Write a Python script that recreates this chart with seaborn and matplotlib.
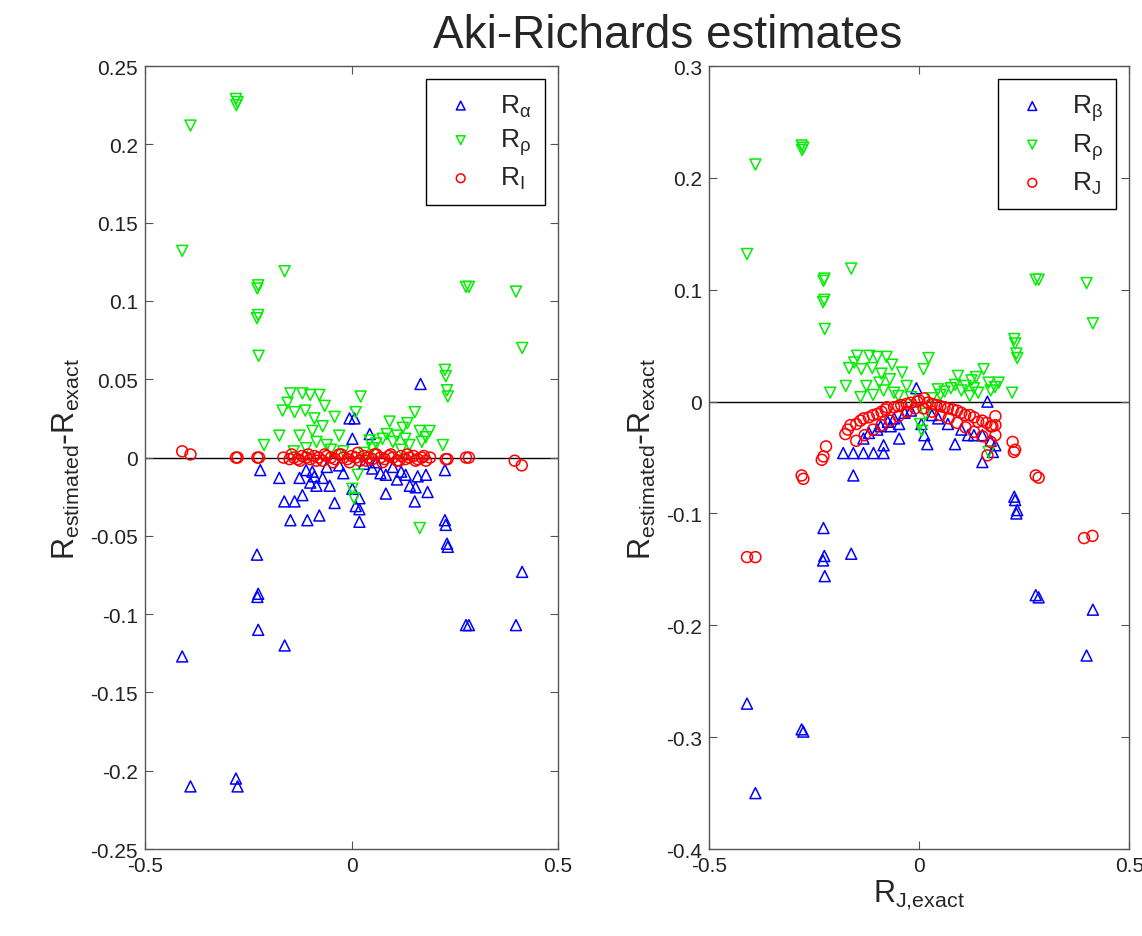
import matplotlib
matplotlib.use("Agg")
import matplotlib.pyplot as plt
import numpy as np
import pandas as pd
import seaborn as sns
from matplotlib.ticker import FuncFormatter

sns.set_style("ticks")
plt.rcParams["font.family"] = ["Liberation Sans", "DejaVu Sans"]
plt.rcParams["axes.unicode_minus"] = False
plt.rcParams["xtick.direction"] = "in"
plt.rcParams["ytick.direction"] = "in"
plt.rcParams["xtick.top"] = True
plt.rcParams["ytick.right"] = True

# R_rho (same in both panels)
x_rho = [-0.41, -0.39, -0.28, -0.276, -0.279, -0.226, -0.228, -0.226, -0.229, -0.225, -0.212, -0.162,
         -0.148, -0.119, -0.100, -0.078, -0.167, -0.138, -0.112, -0.175, -0.126, -0.095, -0.070, -0.041,
         -0.030, 0.022, 0.010, 0.153, 0.092, 0.124, 0.165, 0.189, 0.221, 0.075, 0.044, 0.015, 0.165,
         0.002, 0.006,
         -0.06, -0.05, -0.02, 0.03, 0.05, 0.06, 0.10, 0.11, 0.13, 0.14, 0.17, 0.12, -0.085, -0.11,
         -0.14, -0.155, -0.09, -0.065, 0.085, 0.135, 0.18,
         0.226, 0.228, 0.231, 0.233, 0.277, 0.284, 0.398, 0.413]
y_rho = [0.132, 0.212, 0.229, 0.227, 0.225, 0.110, 0.108, 0.091, 0.089, 0.065, 0.008, 0.119,
         0.041, 0.041, 0.040, 0.040, 0.030, 0.029, 0.030, 0.014, 0.014, 0.017, 0.020, 0.026,
         0.014, 0.039, 0.029, 0.029, 0.023, 0.019, 0.017, 0.017, 0.008, 0.012, 0.011, -0.011, -0.045,
         -0.020, -0.026,
         0.008, 0.005, 0.004, 0.003, 0.006, 0.009, 0.010, 0.014, 0.012, 0.008, 0.010, 0.005, 0.010, 0.006,
         0.004, 0.035, 0.025, 0.033, 0.015, 0.022, 0.013,
         0.056, 0.052, 0.043, 0.039, 0.109, 0.109, 0.106, 0.070]

# R_alpha (left panel)
x_alpha = [-0.41, -0.39, -0.28, -0.276, -0.226, -0.228, -0.226, -0.229, -0.162, -0.221,
           -0.175, -0.126, -0.095, -0.070, -0.053, -0.163, -0.138, -0.119, -0.148, -0.107, -0.078,
           -0.041, -0.005, 0.002, 0.002, 0.010, 0.019, 0.044, 0.007, 0.083, 0.131, 0.141, 0.180,
           0.155, 0.184, 0.226, 0.083, 0.153, 0.167, 0.019, 0.019,
           -0.11, -0.09, -0.06, -0.03, -0.02, 0.03, 0.05, 0.07, 0.10, 0.12, 0.16, -0.10, -0.085, 0.11, 0.06,
           0.226, 0.228, 0.231, 0.233, 0.277, 0.284, 0.398, 0.413]
y_alpha = [-0.127, -0.210, -0.205, -0.210, -0.110, -0.089, -0.087, -0.062, -0.120, -0.008,
           -0.013, -0.013, -0.009, -0.013, -0.018, -0.028, -0.028, -0.024, -0.040, -0.040, -0.037,
           -0.029, 0.025, 0.012, -0.020, -0.031, -0.041, 0.015, 0.025, -0.011, -0.011, -0.018, -0.011,
           -0.019, -0.022, -0.008, -0.023, -0.028, 0.047, -0.026, -0.033,
           -0.008, -0.012, -0.006, -0.005, -0.010, -0.004, -0.007, -0.010, -0.006, -0.009, -0.012,
           -0.016, -0.018, -0.014, -0.003,
           -0.040, -0.043, -0.055, -0.057, -0.107, -0.107, -0.107, -0.073]

# R_I (left panel)
x_I = [-0.41, -0.39, -0.28, -0.276, -0.228, -0.224, -0.165,
       -0.15, -0.14, -0.13, -0.12, -0.11, -0.10, -0.09, -0.08, -0.07, -0.06, -0.05, -0.04, -0.03,
       -0.02, -0.01, 0.0, 0.01, 0.02, 0.03, 0.04, 0.05, 0.06, 0.07, 0.08, 0.09, 0.10, 0.11, 0.12,
       0.13, 0.14, 0.15, 0.16, 0.17, 0.18, 0.19,
       -0.145, -0.125, -0.105, -0.085, -0.065, -0.045, -0.025, -0.005, 0.015, 0.035, 0.055, 0.075,
       0.095, 0.115, 0.135, 0.155, 0.175,
       0.228, 0.232, 0.277, 0.284, 0.395, 0.412]
y_I = [0.004, 0.002, 0.000, 0.000, 0.000, 0.000, 0.000,
       -0.001, 0.000, -0.001, 0.001, 0.000, -0.001, 0.001, 0.000, -0.002, 0.001, 0.000, -0.001, 0.002,
       0.000, -0.001, 0.001, 0.000, -0.002, 0.001, 0.000, -0.001, 0.002, 0.000, -0.001, 0.001, 0.000,
       -0.002, 0.001, -0.001, 0.000, 0.001, -0.001, 0.000, -0.002, 0.000,
       0.002, -0.002, 0.002, -0.002, 0.002, -0.003, 0.002, -0.003, 0.003, -0.002, 0.002, -0.003,
       0.002, -0.002, 0.002, -0.002, 0.001,
       -0.001, -0.001, 0.000, 0.000, -0.002, -0.005]

# R_beta (right panel)
x_beta = [-0.41, -0.39, -0.28, -0.276, -0.228, -0.226, -0.229, -0.225, -0.162,
          -0.157, -0.181, -0.157, -0.133, -0.109, -0.085, -0.133, -0.085, -0.048, -0.092, -0.068,
          -0.048, -0.007, 0.162, 0.019, 0.085, 0.068, 0.116, 0.150, 0.150, 0.181, 0.005, 0.012,
          -0.12, -0.10, -0.075, -0.06, -0.035, -0.02, 0.03, 0.045, 0.10, 0.13, 0.17, 0.175,
          0.226, 0.228, 0.231, 0.233, 0.277, 0.284, 0.398, 0.413]
y_beta = [-0.270, -0.350, -0.293, -0.295, -0.113, -0.138, -0.142, -0.156, -0.136,
          -0.066, -0.046, -0.046, -0.046, -0.046, -0.046, -0.033, -0.039, -0.033, -0.022, -0.022,
          -0.020, 0.012, 0.000, -0.038, -0.038, -0.020, -0.030, -0.030, -0.054, -0.039, -0.020, -0.030,
          -0.028, -0.025, -0.018, -0.015, -0.010, -0.008, -0.012, -0.015, -0.025, -0.030, -0.035, -0.045,
          -0.085, -0.088, -0.100, -0.097, -0.173, -0.175, -0.227, -0.186]

# R_J (right panel)
x_J = [-0.41, -0.39, -0.28, -0.276, -0.232, -0.228, -0.222, -0.176, -0.164, -0.133, -0.100, -0.077,
       -0.043, -0.005, 0.012, 0.068, 0.109, 0.140, 0.174, 0.181, 0.181, 0.181, 0.162, 0.222, 0.225,
       0.228, 0.277, 0.284, 0.392, 0.412,
       -0.17, -0.15, -0.14, -0.12, -0.11, -0.09, -0.08, -0.06, -0.05, -0.03, -0.02, 0.0, 0.02, 0.03,
       0.04, 0.05, 0.06, 0.08, 0.09, 0.10, 0.12, 0.13, 0.15, 0.16, 0.17,
       -0.15, -0.13, -0.11, -0.09, -0.07, -0.05, -0.03, -0.01, 0.01, 0.03, 0.05, 0.07, 0.09, 0.11,
       0.13, 0.15, 0.17]
y_J = [-0.139, -0.139, -0.066, -0.069, -0.052, -0.049, -0.040, -0.029, -0.021, -0.015, -0.011, -0.005,
       -0.003, 0.000, 0.003, -0.006, -0.012, -0.018, -0.022, -0.013, -0.021, -0.030, -0.048, -0.036,
       -0.045, -0.043, -0.066, -0.068, -0.122, -0.120,
       -0.025, -0.020, -0.017, -0.014, -0.012, -0.009, -0.007, -0.005, -0.004, -0.002, -0.001, 0.001,
       -0.001, -0.002, -0.003, -0.004, -0.005, -0.007, -0.008, -0.010, -0.012, -0.014, -0.017, -0.019,
       -0.022,
       -0.035, -0.030, -0.025, -0.021, -0.017, -0.013, -0.009, -0.006, -0.006, -0.009, -0.012, -0.015,
       -0.019, -0.023, -0.027, -0.031, -0.036]

BLUE, GREEN, RED = "#0000ff", "#00ee00", "#ff0000"
EDGE = "#555555"


def dibujar_serie(ax, x, y, marker, color, label):
    sns.scatterplot(x=x, y=y, ax=ax, marker=marker, s=62, color=color, facecolor="none",
                    edgecolor=color, linewidth=1.1, label=label, legend=False)


def formato_ejes(ax, ylim, yticks):
    ax.set_xlim(-0.5, 0.5)
    ax.set_ylim(*ylim)
    ax.set_xticks([-0.5, 0, 0.5])
    ax.set_yticks(yticks)
    fmt = FuncFormatter(lambda v, p: f"{v:g}" if abs(v) > 1e-12 else "0")
    ax.xaxis.set_major_formatter(fmt)
    ax.yaxis.set_major_formatter(fmt)
    ax.tick_params(labelsize=15, length=6, width=0.8, color=EDGE, labelcolor="#222222", pad=5)
    for sp in ax.spines.values():
        sp.set_visible(True)
        sp.set_color(EDGE)
        sp.set_linewidth(1.0)
    ax.axhline(0, color="black", lw=1.0, zorder=0)
    ax.set_ylabel(r"$\mathregular{R_{estimated}\text{-}R_{exact}}$", fontsize=22, labelpad=6)
    ax.set_xlabel("")
    ax.legend(loc="upper right", fontsize=19, frameon=True, fancybox=False, framealpha=1,
              edgecolor="black", borderaxespad=0.5, handletextpad=0.7, labelspacing=0.3,
              borderpad=0.5, markerscale=0.8, handlelength=1.6)
    ax.get_legend().get_frame().set_linewidth(1.0)


fig = plt.figure(figsize=(11.42, 9.37), dpi=100)
ax1 = fig.add_axes([0.127, 0.0928, 0.3617, 0.8356])
ax2 = fig.add_axes([0.621, 0.0928, 0.368, 0.8356])

dibujar_serie(ax1, x_alpha, y_alpha, "^", BLUE, r"$\mathregular{R_{\alpha}}$")
dibujar_serie(ax1, x_rho, y_rho, "v", GREEN, r"$\mathregular{R_{\rho}}$")
dibujar_serie(ax1, x_I, y_I, "o", RED, r"$\mathregular{R_{I}}$")
formato_ejes(ax1, (-0.25, 0.25), np.arange(-0.25, 0.2501, 0.05))

dibujar_serie(ax2, x_beta, y_beta, "^", BLUE, r"$\mathregular{R_{\beta}}$")
dibujar_serie(ax2, x_rho, y_rho, "v", GREEN, r"$\mathregular{R_{\rho}}$")
dibujar_serie(ax2, x_J, y_J, "o", RED, r"$\mathregular{R_{J}}$")
formato_ejes(ax2, (-0.4, 0.3), np.arange(-0.4, 0.3001, 0.1))
ax2.set_xlabel(r"$\mathregular{R_{J{,}exact}}$", fontsize=22, labelpad=2)

fig.text(0.585, 0.962, "Aki-Richards estimates", ha="center", va="center", fontsize=33)

fig.savefig("out.png", dpi=100)
